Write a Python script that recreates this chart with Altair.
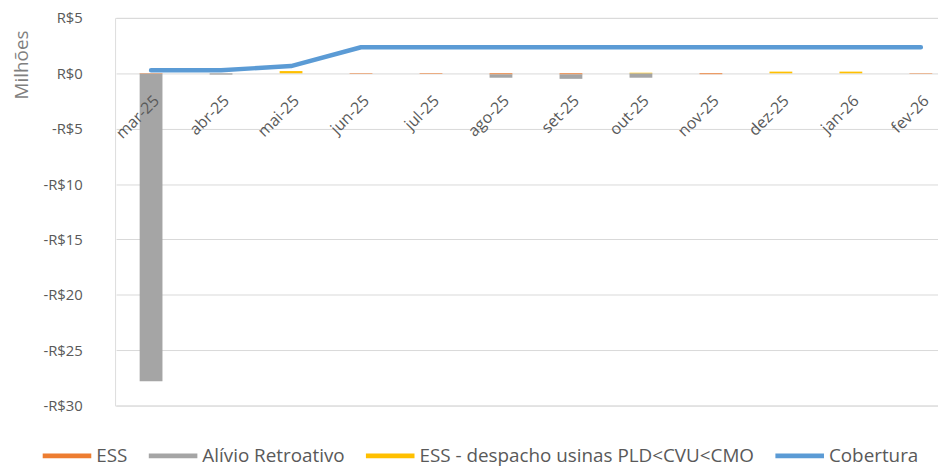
import altair as alt
import pandas as pd

months = ["mar-25", "abr-25", "mai-25", "jun-25", "jul-25", "ago-25",
          "set-25", "out-25", "nov-25", "dez-25", "jan-26", "fev-26"]
series_names = ["ESS", "Alívio Retroativo", "ESS - despacho usinas PLD<CVU<CMO", "Cobertura"]
series_colors = ["#ED7D31", "#A5A5A5", "#FFC000", "#5B9BD5"]

ess = [-0.05, 0.0, 0.0, -0.05, -0.05, -0.1, -0.1, 0.0, -0.08, 0.0, 0.0, -0.04]
alivio = [-27.75, -0.12, 0.0, 0.0, 0.0, -0.3, -0.4, -0.4, 0.0, 0.0, 0.0, 0.0]
ess_pld = [0.0, 0.0, 0.2, 0.0, 0.0, 0.0, 0.0, 0.05, 0.0, 0.15, 0.15, 0.0]
cobertura = [0.28, 0.28, 0.65, 2.35, 2.35, 2.35, 2.35, 2.35, 2.35, 2.35, 2.35, 2.35]

y_ticks = [5, 0, -5, -10, -15, -20, -25, -30]

rows = []
for i, (name, vals) in enumerate(zip(series_names[:3], [ess, alivio, ess_pld])):
    for m, v in zip(months, vals):
        rows.append({"mes": m, "serie": name, "valor": v, "ordem": i})
bar_df = pd.DataFrame(rows)
line_df = pd.DataFrame({"mes": months, "serie": "Cobertura", "valor": cobertura})

FONT = "Open Sans"
TXT = "#595959"

color_scale = alt.Scale(domain=series_names, range=series_colors)
x_scale = alt.Scale(domain=months, range=[1, 848])
y_scale = alt.Scale(domain=[-30, 5], nice=False, zero=False)

x_axis = alt.Axis(orient="bottom", offset=-336, domain=False, ticks=False, grid=False,
                  labelAngle=315, labelFontSize=16, labelColor=TXT, labelFont=FONT,
                  labelPadding=20, title=None, zindex=1)
y_axis = alt.Axis(values=y_ticks, labelExpr="datum.value < 0 ? '-R$' + abs(datum.value) : 'R$' + datum.value",
                  domain=False, ticks=False, grid=True, gridColor="#d9d9d9", gridWidth=1,
                  labelFontSize=15, labelColor=TXT, labelFont=FONT, labelPadding=33,
                  title="Milhões", titleFont=FONT, titleFontSize=19, titleFontWeight="normal",
                  titleColor="#7f7f7f", titleX=-94, titleY=47, titleAlign="center",
                  titleBaseline="middle", titleAngle=270)

bars = alt.Chart(bar_df).mark_bar(size=23).encode(
    x=alt.X("mes:N", scale=x_scale, axis=x_axis),
    y=alt.Y("valor:Q", stack="zero", scale=y_scale, axis=y_axis),
    color=alt.Color("serie:N", scale=color_scale, legend=alt.Legend(
        orient="none", legendX=-73, legendY=417, direction="horizontal", title=None,
        symbolType="M-1,-0.1H1V0.1H-1Z", symbolSize=2401, symbolStrokeWidth=0,
        labelFont=FONT, labelFontSize=19, labelColor=TXT, labelOffset=5,
        columnPadding=21, labelLimit=600, symbolOpacity=1)),
    order=alt.Order("ordem:Q"),
)

line = alt.Chart(line_df).mark_line(strokeWidth=4.5, strokeCap="round", strokeJoin="round").encode(
    x=alt.X("mes:N", scale=x_scale, axis=x_axis),
    y=alt.Y("valor:Q", scale=y_scale, axis=y_axis),
    color=alt.Color("serie:N", scale=color_scale, legend=None),
)

chart = alt.layer(bars, line).properties(
    width=830, height=391,
    autosize=alt.AutoSizeParams(type="none"),
    padding={"left": 108, "top": 8, "right": 0, "bottom": 64},
).configure_view(stroke=None).configure(background="white")

chart.save("out.html", embed_options={"renderer": "svg", "actions": False})
